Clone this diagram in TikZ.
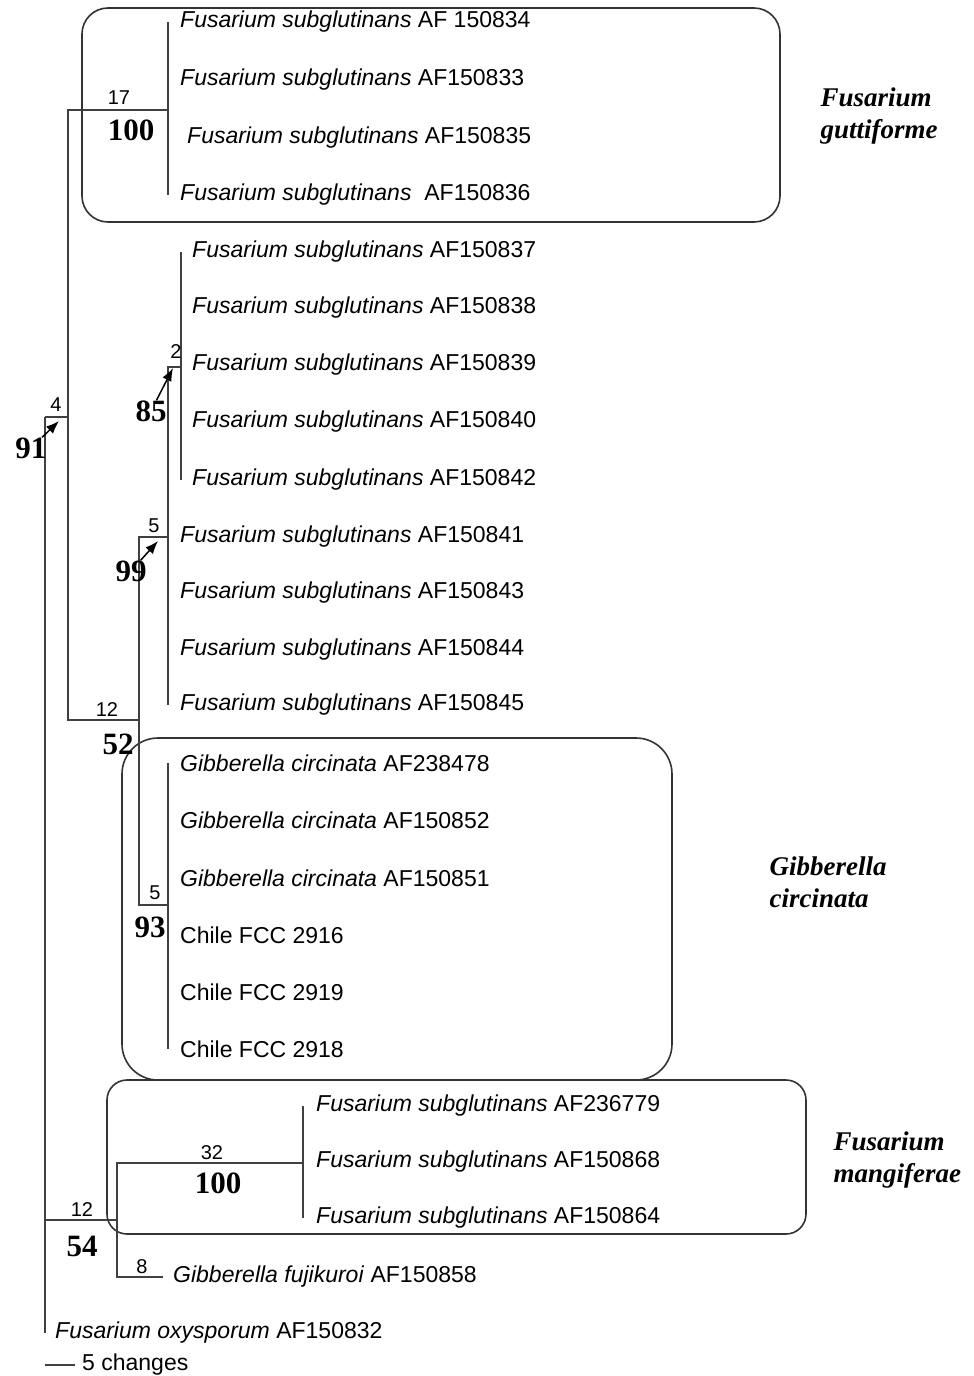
\documentclass[tikz,border=0pt]{standalone}
\usepackage{fontspec}
\setmainfont{Liberation Serif}
\setsansfont{Liberation Sans}
\usetikzlibrary{arrows.meta}

\newcommand{\leaffont}{\sffamily\fontsize{23}{27}\selectfont}
\newcommand{\fsub}{\textit{Fusarium subglutinans}}
\newcommand{\gcir}{\textit{Gibberella circinata}}

\tikzset{
  branch/.style={line width=1.6pt,draw=black!75},
  leaf/.style={anchor=west,inner xsep=12pt,inner ysep=0pt,font=\leaffont},
  blen/.style={inner sep=0pt,font=\sffamily\fontsize{20}{23}\selectfont},
  boot/.style={inner sep=0pt,font=\bfseries\fontsize{31}{34}\selectfont},
  grpbox/.style={line width=1.6pt,draw=black!80},
  grplabel/.style={anchor=west,align=left,font=\bfseries\itshape\fontsize{27}{32}\selectfont},
  link/.style={line width=1.5pt,-{Latex[length=13pt,width=10pt]}}
}

\begin{document}
\begin{tikzpicture}[x=1pt,y=-1pt]
    \useasboundingbox (0,0) rectangle (974,1376);

    % group boxes
    \draw[grpbox,rounded corners=26pt] (82,8) rectangle (780,222);
    \draw[grpbox,rounded corners=36pt] (122,738) rectangle (672,1080);
    \draw[grpbox,rounded corners=20pt] (107,1080) rectangle (806,1234);
    \node[grplabel] (gutt) at (817,116) {Fusarium\\guttiforme};
    \node[grplabel] (circ) at (766,882) {Gibberella\\circinata};
    \node[grplabel] (mang) at (830,1160) {Fusarium\\mangiferae};

    % internal nodes
    \coordinate (root) at (45,417);
    \coordinate (c91) at (68,417);
    \coordinate (c100a) at (168,110);
    \coordinate (c52) at (139,720);
    \coordinate (c99) at (168,537);
    \coordinate (c85) at (181,367);
    \coordinate (c93) at (168,905);
    \coordinate (c54) at (117,1220);
    \coordinate (c100b) at (303,1163);

    % leaves
    \node[leaf] (l34) at (168,22) {\fsub{} AF 150834};
    \node[leaf] (l33) at (168,80) {\fsub{} AF150833};
    \node[leaf,inner xsep=19pt] (l35) at (168,138) {\fsub{} AF150835};
    \node[leaf] (l36) at (168,195) {\fsub\ \ AF150836};
    \foreach \i in {34,33,35,36}
        \draw[branch] (c100a) |- (l\i.west);

    \foreach \i/\y in {37/252,38/308,39/365,40/422,42/480} {
        \node[leaf,inner xsep=11pt] (l\i) at (181,\y) {\fsub{} AF1508\i};
        \draw[branch] (c85) |- (l\i.west);
    }
    \foreach \i/\y in {41/537,43/593,44/650,45/705} {
        \node[leaf] (l\i) at (168,\y) {\fsub{} AF1508\i};
        \draw[branch] (c99) |- (l\i.west);
    }

    \foreach \n/\y/\t in {g1/763/\gcir{} AF238478,g2/820/\gcir{} AF150852,g3/878/\gcir{} AF150851,
                          g4/935/Chile FCC 2916,g5/992/Chile FCC 2919,g6/1049/Chile FCC 2918} {
        \node[leaf] (\n) at (168,\y) {\t};
        \draw[branch] (c93) |- (\n.west);
    }

    \foreach \i/\y in {236779/1106,150868/1162,150864/1218} {
        \node[leaf,inner xsep=13pt] (m\i) at (303,\y) {\fsub{} AF\i};
        \draw[branch] (c100b) |- (m\i.west);
    }
    \node[leaf,inner xsep=10pt] (fuj) at (163,1277) {\textit{Gibberella fujikuroi} AF150858};
    \node[leaf,inner xsep=10pt] (oxy) at (45,1333) {\textit{Fusarium oxysporum} AF150832};

    % branches
    \draw[branch] (root) |- (c91);
    \draw[branch] (root) |- (c54);
    \draw[branch] (root) -- (oxy.west);
    \draw[branch] (c91) |- (c100a);
    \draw[branch] (c91) |- (c52);
    \draw[branch] (c52) |- (c99);
    \draw[branch] (c52) |- (c93);
    \draw[branch] (c99) |- (c85);
    \draw[branch] (c54) |- (c100b);
    \draw[branch] (c54) |- (fuj.west);

    % branch lengths and support
    \node[blen] (b4) at (56,405) {4};
    \node[boot] (s91) at (31,448) {91};
    \node[blen] (b17) at (119,98) {17};
    \node[boot] (s100a) at (131,130) {100};
    \node[blen] (b2) at (176,352) {2};
    \node[boot] (s85) at (151,411) {85};
    \node[blen] (b5a) at (154,526) {5};
    \node[boot] (s99) at (131,571) {99};
    \node[blen] (b12a) at (107,710) {12};
    \node[boot] (s52) at (118,744) {52};
    \node[blen] (b5b) at (155,893) {5};
    \node[boot] (s93) at (150,927) {93};
    \node[blen] (b32) at (212,1153) {32};
    \node[boot] (s100b) at (218,1183) {100};
    \node[blen] (b12b) at (82,1210) {12};
    \node[boot] (s54) at (82,1246) {54};
    \node[blen] (b8) at (142,1267) {8};

    \coordinate (a91) at (59,421);
    \coordinate (a85) at (173,368);
    \coordinate (a99) at (158,541);
    \draw[link] (s91) -- (a91);
    \draw[link] (s85) -- (a85);
    \draw[link] (s99) -- (a99);

    % scale bar
    \coordinate (sb0) at (45,1365);
    \coordinate (sb1) at (75,1365);
    \draw[branch] (sb0) -- (sb1);
    \node[leaf,inner xsep=7pt] (sbl) at (sb1) {5 changes};
\end{tikzpicture}
\end{document}
